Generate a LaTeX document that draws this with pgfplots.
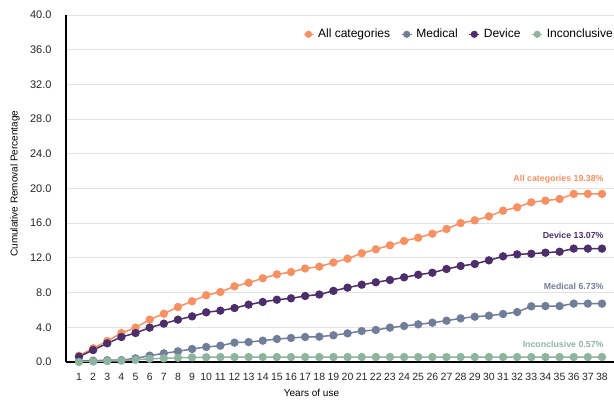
\documentclass[border=0pt]{standalone}
\usepackage{fontspec}
\setmainfont{Liberation Sans}
\usepackage{pgfplots}
\pgfplotsset{compat=1.18}
\definecolor{cAll}{RGB}{246,145,100}
\definecolor{cMed}{RGB}{112,126,152}
\definecolor{cDev}{RGB}{76,46,106}
\definecolor{cInc}{RGB}{142,180,160}
\definecolor{cGrid}{RGB}{226,226,226}
\begin{document}
\begin{tikzpicture}[x=1pt,y=1pt]
\begin{axis}[
  at={(0,0)}, anchor=south west,
  scale only axis, width=548pt, height=347pt,
  xmin=0.08, xmax=38.85, ymin=0, ymax=40,
  xtick={1,...,38},
  ytick={0,4,...,40},
  /pgf/number format/assume math mode=true,
  yticklabel style={/pgf/number format/fixed, /pgf/number format/fixed zerofill, /pgf/number format/precision=1, font=\fontsize{11}{12}\selectfont, xshift=-11pt},
  xticklabel style={font=\fontsize{10.5}{12}\selectfont, yshift=-7.5pt},
  tick label style={text=black!85},
  ymajorgrids, grid style={cGrid, line width=0.8pt},
  axis x line*=bottom, axis y line*=left,
  axis line style={black, line width=1.1pt, -},
  major tick length=0pt,
  xlabel={Years of use}, ylabel={Cumulative Removal Percentage},
  label style={font=\fontsize{10.5}{12}\selectfont, text=black!85},
  every axis x label/.style={at={(axis description cs:0.448,0)}, anchor=north, yshift=-24pt},
  every axis y label/.style={at={(axis description cs:-0.093,0.514)}, rotate=90, anchor=center},
  legend style={at={(1,1)}, anchor=north east, draw=none, fill=none,
    legend columns=4, font=\fontsize{12}{14}\selectfont,
    /tikz/every even column/.append style={column sep=9pt},
    /tikz/every odd column/.append style={column sep=2pt}, yshift=-10pt, xshift=4pt},
  legend image code/.code={\draw[#1, line width=1.2pt] (0pt,0pt) -- (10pt,0pt); \fill[#1] (5pt,0pt) circle (2.8pt);},
  every axis plot/.append style={line width=1.5pt, mark=*, mark size=3.4pt},
]
\addplot[cAll, mark options={fill=cAll, draw=cAll}] coordinates {
(1,0.72)(2,1.58)(3,2.42)(4,3.34)(5,3.96)(6,4.88)(7,5.57)(8,6.34)(9,7.00)(10,7.69)
(11,8.07)(12,8.72)(13,9.14)(14,9.65)(15,10.10)(16,10.37)(17,10.78)(18,10.99)(19,11.47)(20,11.91)
(21,12.53)(22,12.99)(23,13.45)(24,13.95)(25,14.33)(26,14.79)(27,15.33)(28,16.02)(29,16.33)(30,16.79)
(31,17.44)(32,17.83)(33,18.41)(34,18.60)(35,18.79)(36,19.38)(37,19.38)(38,19.38)};
\addlegendentry{All categories}
\addplot[cMed, mark options={fill=cMed, draw=cMed}] coordinates {
(1,0.10)(2,0.15)(3,0.20)(4,0.22)(5,0.42)(6,0.73)(7,1.00)(8,1.23)(9,1.50)(10,1.73)
(11,1.88)(12,2.23)(13,2.30)(14,2.46)(15,2.65)(16,2.77)(17,2.88)(18,2.92)(19,3.08)(20,3.30)
(21,3.57)(22,3.69)(23,3.96)(24,4.15)(25,4.34)(26,4.53)(27,4.76)(28,5.03)(29,5.22)(30,5.34)
(31,5.53)(32,5.76)(33,6.42)(34,6.45)(35,6.45)(36,6.73)(37,6.73)(38,6.73)};
\addlegendentry{Medical}
\addplot[cDev, mark options={fill=cDev, draw=cDev}] coordinates {
(1,0.62)(2,1.38)(3,2.15)(4,2.88)(5,3.34)(6,3.96)(7,4.42)(8,4.88)(9,5.26)(10,5.73)
(11,5.92)(12,6.22)(13,6.61)(14,6.92)(15,7.18)(16,7.34)(17,7.61)(18,7.78)(19,8.20)(20,8.57)
(21,8.91)(22,9.19)(23,9.45)(24,9.76)(25,10.06)(26,10.29)(27,10.72)(28,11.07)(29,11.30)(30,11.72)
(31,12.18)(32,12.41)(33,12.48)(34,12.60)(35,12.71)(36,13.07)(37,13.07)(38,13.07)};
\addlegendentry{Device}
\addplot[cInc, mark options={fill=cInc, draw=cInc}] coordinates {
(1,0.00)(2,0.05)(3,0.10)(4,0.15)(5,0.25)(6,0.38)(7,0.42)(8,0.48)(9,0.53)(10,0.55)
(11,0.57)(12,0.57)(13,0.57)(14,0.57)(15,0.57)(16,0.57)(17,0.57)(18,0.57)(19,0.57)(20,0.57)
(21,0.57)(22,0.57)(23,0.57)(24,0.57)(25,0.57)(26,0.57)(27,0.57)(28,0.57)(29,0.57)(30,0.57)
(31,0.57)(32,0.57)(33,0.57)(34,0.57)(35,0.57)(36,0.57)(37,0.57)(38,0.57)};
\addlegendentry{Inconclusive}
\node[anchor=east, inner sep=0pt, text=cAll, font=\bfseries\fontsize{8.8}{9}\selectfont] at (axis cs:38.12,21.1) {All categories 19.38\%};
\node[anchor=east, inner sep=0pt, text=cDev, font=\bfseries\fontsize{8.8}{9}\selectfont] at (axis cs:38.12,14.56) {Device 13.07\%};
\node[anchor=east, inner sep=0pt, text=cMed, font=\bfseries\fontsize{8.8}{9}\selectfont] at (axis cs:38.12,8.68) {Medical 6.73\%};
\node[anchor=east, inner sep=0pt, text=cInc, font=\bfseries\fontsize{8.8}{9}\selectfont] at (axis cs:38.12,2.07) {Inconclusive 0.57\%};
\end{axis}
\pgfresetboundingbox
\path (-66,-39) rectangle (548,362);
\end{tikzpicture}
\end{document}
